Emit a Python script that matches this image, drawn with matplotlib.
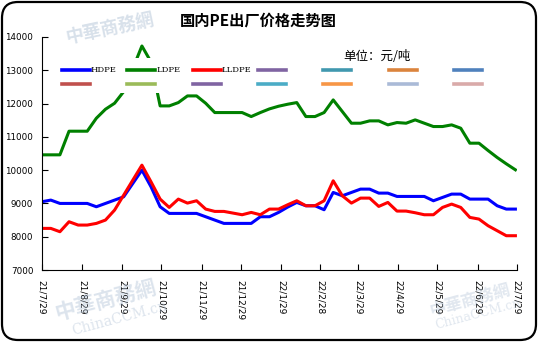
import numpy as np
import pandas as pd
import matplotlib
matplotlib.use('Agg')
import matplotlib.pyplot as plt
from matplotlib.lines import Line2D
from matplotlib.patches import FancyBboxPatch, Rectangle

plt.rcParams['font.family'] = ['Noto Sans CJK SC', 'DejaVu Sans']

# weekly quotes, yuan per ton
dates = pd.date_range('2021-07-29', periods=53, freq='7D')

hdpe = [9050, 9100, 9000, 9000, 9000, 9000, 8900, 9000, 9100, 9200,
        9600, 10000, 9500, 8900, 8700, 8700, 8700, 8700, 8600, 8500,
        8400, 8400, 8400, 8400, 8600, 8600, 8730, 8890, 9030, 8930,
        8930, 8810, 9330, 9230, 9330, 9430, 9430, 9310, 9310, 9210,
        9210, 9210, 9210, 9080, 9180, 9280, 9280, 9130, 9130, 9130,
        8930, 8830, 8830]

ldpe = [10460, 10460, 10460, 11170, 11170, 11170, 11560, 11830, 12010, 12360,
        13050, 13730, 13250, 11930, 11930, 12030, 12230, 12230, 12010, 11730,
        11730, 11730, 11730, 11610, 11730, 11840, 11920, 11980, 12030, 11610,
        11610, 11730, 12110, 11760, 11410, 11410, 11480, 11480, 11360, 11430,
        11410, 11510, 11410, 11310, 11310, 11360, 11260, 10810, 10810, 10590,
        10380, 10190, 10010]

lldpe = [8250, 8250, 8150, 8450, 8350, 8350, 8400, 8500, 8800, 9250,
         9700, 10150, 9650, 9130, 8880, 9130, 9010, 9080, 8830, 8760,
         8760, 8710, 8660, 8730, 8660, 8830, 8830, 8960, 9080, 8930,
         8930, 9080, 9680, 9230, 9010, 9160, 9160, 8910, 9030, 8770,
         8770, 8720, 8660, 8660, 8880, 8980, 8880, 8580, 8530, 8330,
         8180, 8030, 8030]

tick_dates = ['2021-07-29', '2021-08-29', '2021-09-29', '2021-10-29', '2021-11-29',
              '2021-12-29', '2022-01-29', '2022-02-28', '2022-03-29', '2022-04-29',
              '2022-05-29', '2022-06-29', '2022-07-29']
tick_labels = ['21/7/29', '21/8/29', '21/9/29', '21/10/29', '21/11/29', '21/12/29',
               '22/1/29', '22/2/28', '22/3/29', '22/4/29', '22/5/29', '22/6/29', '22/7/29']

series_names = ['HDPE', 'LDPE', 'LLDPE', '', '', '', '', '', '', '', '', '', '', '']
series_colors = ['#0000FF', '#008000', '#FF0000', '#8064A2', '#4198AF', '#DB843D', '#4F81BD',
                 '#C0504D', '#9BBB59', '#8064A2', '#4BACC6', '#F79646', '#AABAD7', '#D9AAA9']

W, H = 538, 342
fig = plt.figure(figsize=(W / 100, H / 100), dpi=100)

# rounded frame around the whole chart
frame = FancyBboxPatch((0.02, 0.02), W / 100 - 0.04, H / 100 - 0.04,
                       boxstyle='round,pad=0,rounding_size=0.16',
                       transform=fig.dpi_scale_trans, fill=False,
                       edgecolor='black', linewidth=1.6)
fig.add_artist(frame)

# faint watermarks
wm = '#A9BCD2'
fig.text(110 / W, 1 - 28 / H, '中華商務網', fontsize=13, color=wm, alpha=0.45,
         rotation=12, ha='center', va='center', fontweight='bold')
fig.text(105 / W, 1 - 300 / H, '中華商務網', fontsize=15, color=wm, alpha=0.4,
         rotation=15, ha='center', va='center', fontweight='bold')
fig.text(120 / W, 1 - 318 / H, 'ChinaCCM.cn', fontsize=10, color=wm, alpha=0.4,
         rotation=15, ha='center', va='center', family=['DejaVu Serif'])
fig.text(470 / W, 1 - 300 / H, '中華商務網', fontsize=12, color=wm, alpha=0.35,
         rotation=15, ha='center', va='center', fontweight='bold')
fig.text(478 / W, 1 - 314 / H, 'ChinaCCM.cn', fontsize=9, color=wm, alpha=0.35,
         rotation=15, ha='center', va='center', family=['DejaVu Serif'])

ax = fig.add_axes([41.7 / W, 1 - 270 / H, 475 / W, 233 / H])
ax.patch.set_alpha(0)

ax.plot(dates, hdpe, color=series_colors[0], linewidth=2.2)
ax.plot(dates, ldpe, color=series_colors[1], linewidth=2.2)
ax.plot(dates, lldpe, color=series_colors[2], linewidth=2.2)

ax.set_ylim(7000, 14000)
ax.set_yticks(np.arange(7000, 14001, 1000))
ax.set_xlim(pd.Timestamp(tick_dates[0]), pd.Timestamp(tick_dates[-1]))
ax.set_xticks([pd.Timestamp(d) for d in tick_dates])
ax.set_xticklabels(tick_labels, rotation=270, fontsize=6.5, family=['DejaVu Sans'])
ax.tick_params(axis='y', direction='in', length=4, labelsize=6.3, pad=6)
ax.tick_params(axis='x', direction='in', length=4, pad=7)
for lab in ax.get_yticklabels():
    lab.set_family(['DejaVu Sans'])
ax.spines['top'].set_visible(False)
ax.spines['right'].set_visible(False)

# legend block on a white strip over the plot
fig.add_artist(Rectangle((56 / W, 1 - 93 / H), 440 / W, 35 / H,
                         transform=fig.transFigure, facecolor='white',
                         edgecolor='none', zorder=3))
col_x = [62 + 65.3 * j for j in range(7)]
row_y = [70, 84]
for k, (name, c) in enumerate(zip(series_names, series_colors)):
    x0 = col_x[k % 7]
    y0 = row_y[k // 7]
    fig.add_artist(Line2D([x0 / W, (x0 + 28) / W], [1 - y0 / H, 1 - y0 / H],
                          transform=fig.transFigure, color=c,
                          linewidth=2.6, zorder=4))
    if name:
        fig.text((x0 + 29) / W, 1 - y0 / H, name, fontsize=6, ha='left', va='center',
                 family=['DejaVu Serif'], zorder=5)

fig.text(258 / W, 1 - 21 / H, '国内PE出厂价格走势图', fontsize=11, fontweight='bold',
         ha='center', va='center')
fig.text(343 / W, 1 - 57 / H, '单位：元/吨', fontsize=9, ha='left', va='center')

fig.savefig('out.png', dpi=100)
